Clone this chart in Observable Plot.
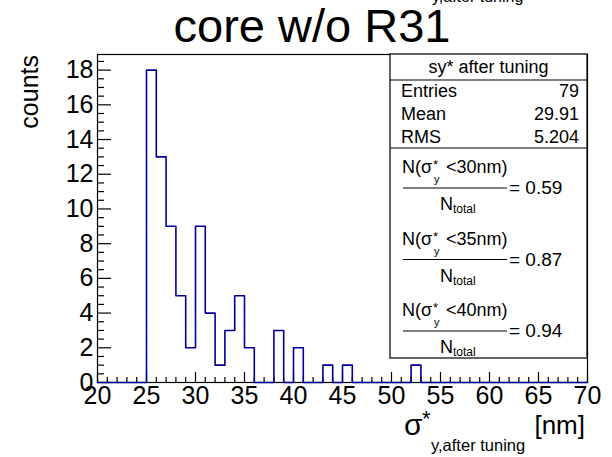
<!DOCTYPE html>
<html>
<head>
<meta charset="utf-8">
<script src="https://cdn.jsdelivr.net/npm/d3@7"></script>
<script src="https://cdn.jsdelivr.net/npm/@observablehq/plot@0.6"></script>
<style>
  html, body { margin: 0; padding: 0; background: #fff; }
  #chart svg { display: block; }
</style>
</head>
<body>
<div id="chart"></div>
<script>
// ---- data ----
const binLow = 20;          // first bin lower edge
const binWidth = 1;         // nm
const counts = [
  0, 0, 0, 0, 0,            // 20-25
  18, 13, 9, 5, 2,          // 25-30
  9, 4, 1, 3, 5,            // 30-35
  2, 0, 0, 3, 0,            // 35-40
  2, 0, 0, 1, 0,            // 40-45
  1, 0, 0, 0, 0,            // 45-50
  0, 0, 1, 0, 0,            // 50-55
  0, 0, 0, 0, 0,            // 55-60
  0, 0, 0, 0, 0,            // 60-65
  0, 0, 0, 0, 0             // 65-70
];
const xMajorTicks = [20, 25, 30, 35, 40, 45, 50, 55, 60, 65, 70];
const yMajorTicks = [0, 2, 4, 6, 8, 10, 12, 14, 16, 18];
const statsTitle = "sy* after tuning";
const statsLabels = ["Entries", "Mean", "RMS"];
const statsValues = ["79", "29.91", "5.204"];
const fracCuts = ["30", "35", "40"];
const fracValues = ["0.59", "0.87", "0.94"];

// ---- derived step points ----
const steps = counts.map((c, i) => ({x: binLow + i * binWidth, y: c}));
steps.push({x: binLow + counts.length * binWidth, y: counts[counts.length - 1]});
const xMinor = d3.range(20, 70.001, 1).filter(v => v % 5 !== 0);
const yMinor = d3.range(0, 18.9, 0.5).filter(v => v % 2 !== 0);

const W = 612, H = 457;
const mL = 97, mR = 25, mT = 54, mB = 75;
const fw = W - mL - mR, fh = H - mT - mB;
const FONT = "Liberation Sans, Arial, Helvetica, sans-serif";

const chart = Plot.plot({
  width: W, height: H,
  marginLeft: mL, marginRight: mR, marginTop: mT, marginBottom: mB,
  style: {fontFamily: FONT, background: "white", color: "black"},
  x: {domain: [20, 70], axis: null},
  y: {domain: [0, 18.9], axis: null},
  marks: [
    Plot.frame({stroke: "black", strokeWidth: 1.2}),
    // ticks (inside, ROOT style)
    Plot.tickX(xMajorTicks, {x: d => d, insetTop: fh - 10, stroke: "black", strokeWidth: 1.2}),
    Plot.tickX(xMinor, {x: d => d, insetTop: fh - 5, stroke: "black", strokeWidth: 1.2}),
    Plot.tickY(yMajorTicks, {y: d => d, insetRight: fw - 14, stroke: "black", strokeWidth: 1.2}),
    Plot.tickY(yMinor, {y: d => d, insetRight: fw - 7, stroke: "black", strokeWidth: 1.2}),
    // tick labels
    Plot.text(xMajorTicks, {x: d => d, frameAnchor: "bottom", lineAnchor: "top", dy: 4,
      text: d => String(d), fontSize: 25, fill: "black"}),
    Plot.text(yMajorTicks, {y: d => d, frameAnchor: "left", textAnchor: "end", dx: -4,
      text: d => String(d), fontSize: 25, fill: "black"}),
    // histogram outline
    Plot.line(steps, {x: "x", y: "y", curve: "step-after", stroke: "#000099", strokeWidth: 1.6})
  ]
});
document.getElementById("chart").appendChild(chart);

// ---- annotations (title, axis titles, stats box) ----
const svg = d3.select(chart);
const g = svg.append("g").attr("font-family", FONT).attr("fill", "black")
  .attr("text-anchor", "start");

// cut-off text at the top edge
g.append("text").attr("x", 432).attr("y", 2).attr("font-size", 16).text("y,after tuning");

// title
g.append("text").attr("x", 312).attr("y", 42).attr("text-anchor", "middle")
  .attr("font-size", 47).text("core w/o R31");

// y axis title
g.append("text").attr("transform", "translate(38,55) rotate(-90)")
  .attr("text-anchor", "end").attr("font-size", 25).text("counts");

// x axis title
g.append("text").attr("x", 404).attr("y", 435).attr("font-size", 30).text("σ");
g.append("text").attr("x", 422).attr("y", 426).attr("font-size", 22).text("*");
g.append("text").attr("x", 431).attr("y", 451).attr("font-size", 16.5).text("y,after tuning");
g.append("text").attr("x", 585).attr("y", 434).attr("text-anchor", "end").attr("font-size", 26).text("[nm]");

// stats box
const bx = 390, by = mT, bw = mL + fw - bx, bh = 358 - mT;
const box = g.append("g");
box.append("rect").attr("x", bx).attr("y", by).attr("width", bw).attr("height", bh)
  .attr("fill", "white").attr("stroke", "black").attr("stroke-width", 1.2);
box.append("line").attr("x1", bx).attr("x2", bx + bw).attr("y1", 80).attr("y2", 80).attr("stroke", "black").attr("stroke-width", 1.2);
box.append("line").attr("x1", bx).attr("x2", bx + bw).attr("y1", 148).attr("y2", 148).attr("stroke", "black").attr("stroke-width", 1.2);
box.append("text").attr("x", bx + bw / 2).attr("y", 73).attr("text-anchor", "middle").attr("font-size", 18).text(statsTitle);
statsLabels.forEach((lab, i) => {
  const yy = 97 + i * 23;
  box.append("text").attr("x", 401).attr("y", yy).attr("font-size", 18).text(lab);
  box.append("text").attr("x", 579).attr("y", yy).attr("text-anchor", "end").attr("font-size", 18).text(statsValues[i]);
});
fracCuts.forEach((cut, i) => {
  const y0 = 173 + i * 71.5;
  const t = box.append("text").attr("font-size", 18);
  t.append("tspan").attr("x", 402).attr("y", y0).text("N(σ");
  t.append("tspan").attr("x", 433).attr("y", y0 - 4).attr("font-size", 13).text("*");
  t.append("tspan").attr("x", 446).attr("y", y0).text("<" + cut + "nm)");
  box.append("text").attr("x", 434).attr("y", y0 + 10).attr("font-size", 11).text("y");
  box.append("line").attr("x1", 403).attr("x2", 507).attr("y1", y0 + 15).attr("y2", y0 + 15)
    .attr("stroke", "black").attr("stroke-width", 1.2);
  box.append("text").attr("x", 509).attr("y", y0 + 21).attr("font-size", 19).text("= " + fracValues[i]);
  const n = box.append("text").attr("font-size", 18);
  n.append("tspan").attr("x", 440).attr("y", y0 + 37).text("N");
  n.append("tspan").attr("x", 453).attr("y", y0 + 40).attr("font-size", 12).text("total");
});
</script>
</body>
</html>
